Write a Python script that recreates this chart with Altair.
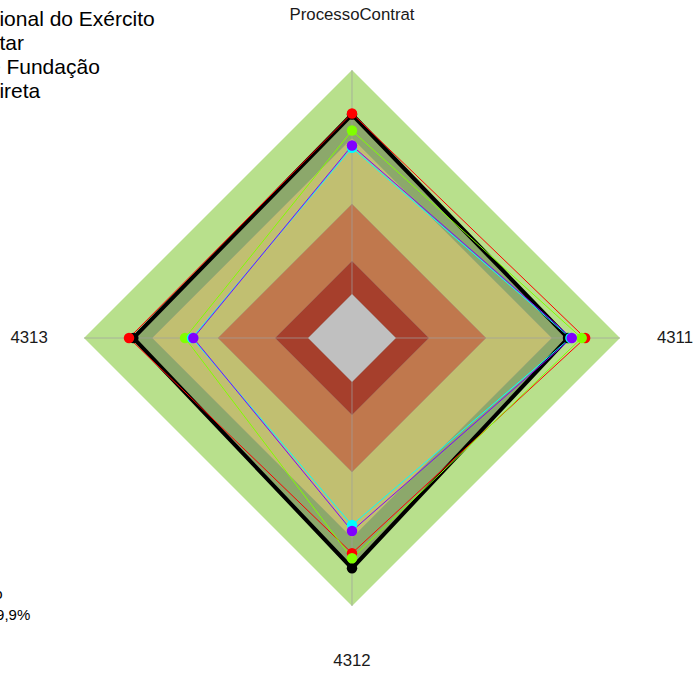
import altair as alt
import numpy as np
import pandas as pd

# Radar axes (clockwise from the top)
axis_labels = ["ProcessoContrat", "4311", "4312", "4313"]
axis_angles = [0, 90, 180, 270]

# Series values on a 0-100 radial scale, in axis order
series_names = [
    "Geral",
    "Fundação Habitacional do Exército",
    "Administração Militar",
    "Empresa Estatal e Fundação",
    "Órgão da Adm Indireta",
]
geral = [83.4, 80.6, 85.9, 81.6]
fhe = [83.8, 87.0, 80.3, 83.2]
militar = [77.4, 85.7, 82.2, 62.3]
empresa = [71.0, 81.5, 69.8, 59.7]
indireta = [71.8, 82.0, 72.0, 59.2]
series_values = [geral, fhe, militar, empresa, indireta]
series_colors = ["#000000", "#FF0000", "#80FF00", "#00FFFF", "#8000FF"]

# Background performance bands (outer radius of each ring)
band_levels = [100, 74.6, 50, 28.7, 16.4]
band_colors = ["#B8E08C", "#C1BF71", "#C0784D", "#A63F2C", "#C0C0C0"]
overall_fill = "#8CA86B"

legend_labels = series_names[1:]
note_lines = ["Média do", "grupo: 79,9%"]

FONT = "Liberation Sans"


def polar(r, deg):
    a = np.radians(deg)
    return float(r * np.sin(a)), float(r * np.cos(a))


def diamond_area(radii):
    # convex quadrilateral as an area: upper edge y, lower edge y2
    top, right, bottom, left = radii
    return pd.DataFrame({
        "x": [-left, 0.0, right],
        "y": [0.0, top, 0.0],
        "y2": [0.0, -bottom, 0.0],
    })


def ring(values):
    rows = []
    for i, (v, ang) in enumerate(zip(values + values[:1], axis_angles + axis_angles[:1])):
        x, y = polar(v, ang)
        rows.append({"x": x, "y": y, "i": i})
    return pd.DataFrame(rows)


xs = alt.Scale(domain=[-131.34, 127.61], nice=False, zero=False)
ys = alt.Scale(domain=[-125.0, 126.12], nice=False, zero=False)
X = lambda: alt.X("x:Q", scale=xs, axis=None)
Y = lambda: alt.Y("y:Q", scale=ys, axis=None)

layers = []

# outer band
layers.append(
    alt.Chart(diamond_area([band_levels[0]] * 4))
    .mark_area(color=band_colors[0], opacity=1)
    .encode(x=X(), y=Y(), y2="y2:Q")
)
# overall polygon fill
layers.append(
    alt.Chart(diamond_area(geral))
    .mark_area(color=overall_fill, opacity=1)
    .encode(x=X(), y=Y(), y2="y2:Q")
)
# inner bands except the centre
for lvl, col in zip(band_levels[1:-1], band_colors[1:-1]):
    layers.append(
        alt.Chart(diamond_area([lvl] * 4))
        .mark_area(color=col, opacity=1)
        .encode(x=X(), y=Y(), y2="y2:Q")
    )

# spokes
spokes = pd.DataFrame([
    {"x": 0.0, "y": 0.0, "x2": polar(100, a)[0], "y2": polar(100, a)[1]} for a in axis_angles
])
layers.append(
    alt.Chart(spokes)
    .mark_rule(color="#A0A0A0", strokeWidth=1, opacity=0.7)
    .encode(x=X(), y=Y(), x2="x2:Q", y2="y2:Q")
)

# centre band
layers.append(
    alt.Chart(diamond_area([band_levels[-1]] * 4))
    .mark_area(color=band_colors[-1], opacity=1)
    .encode(x=X(), y=Y(), y2="y2:Q")
)

# faint band outlines
for lvl in band_levels[1:]:
    layers.append(
        alt.Chart(ring([lvl] * 4))
        .mark_line(color="#8A8A8A", strokeWidth=0.6, opacity=0.45)
        .encode(x=X(), y=Y(), order="i:Q")
    )

# series outlines
for vals, col in zip(series_values, series_colors):
    w = 4 if col == "#000000" else 1
    layers.append(
        alt.Chart(ring(vals))
        .mark_line(color=col, strokeWidth=w)
        .encode(x=X(), y=Y(), order="i:Q")
    )

# series points
for vals, col in zip(series_values, series_colors):
    layers.append(
        alt.Chart(ring(vals).iloc[:4])
        .mark_circle(color=col, size=110, opacity=1)
        .encode(x=X(), y=Y())
    )

# axis labels
lab = pd.DataFrame([
    {"x": polar(120.5, a)[0], "y": polar(120.5, a)[1], "label": t}
    for a, t in zip(axis_angles, axis_labels)
])
layers.append(
    alt.Chart(lab)
    .mark_text(font=FONT, fontSize=16.8, color="#1A1A1A", align="center", baseline="middle")
    .encode(x=X(), y=Y(), text="label:N")
)

# legend text block (anchored left of the view)
leg = pd.DataFrame({"label": legend_labels, "row": list(range(len(legend_labels)))})
layers.append(
    alt.Chart(leg)
    .transform_calculate(py="25.5 + 24 * datum.row")
    .mark_text(font=FONT, fontSize=21, color="#000000", align="left", baseline="alphabetic")
    .encode(x=alt.value(-171), y=alt.Y("py:Q", scale=None), text="label:N")
)

# note text
note = pd.DataFrame({"label": note_lines, "row": list(range(len(note_lines)))})
layers.append(
    alt.Chart(note)
    .transform_calculate(py="599 + 21 * datum.row")
    .mark_text(font=FONT, fontSize=15, color="#000000", align="left", baseline="alphabetic")
    .encode(x=alt.value(-59), y=alt.Y("py:Q", scale=None), text="label:N")
)

chart = (
    alt.layer(*layers)
    .properties(width=694, height=673, autosize=alt.AutoSizeParams(type="none"), padding=0, background="white")
    .configure_view(stroke=None)
)

chart.save("out.html", embed_options={"renderer": "svg", "actions": False})
